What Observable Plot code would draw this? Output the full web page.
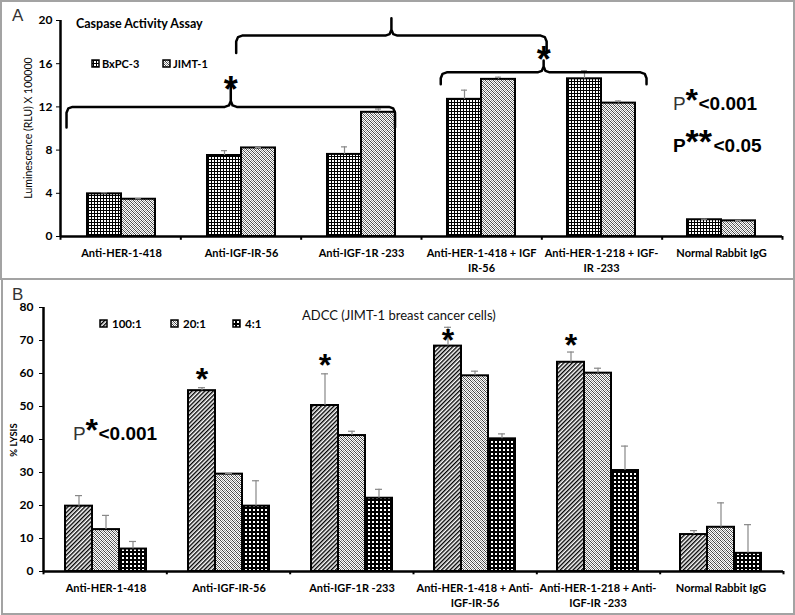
<!DOCTYPE html>
<html><head><meta charset="utf-8">
<script src="https://cdn.jsdelivr.net/npm/d3@7"></script>
<script src="https://cdn.jsdelivr.net/npm/@observablehq/plot@0.6"></script>
<style>
body{margin:0;background:#fff;}
#root{position:relative;width:795px;height:615px;overflow:hidden;}
.panel{position:absolute;border:2px solid #a3a3a3;box-sizing:border-box;}
</style></head>
<body>
<svg width="0" height="0" style="position:absolute">
<defs>
<pattern id="pGridA" width="3" height="3" patternUnits="userSpaceOnUse"><rect width="3" height="3" fill="#000"/><rect x="1" y="1" width="2" height="2" fill="#fff"/></pattern>
<pattern id="pGrid4" width="4" height="4" patternUnits="userSpaceOnUse"><rect width="4" height="4" fill="#000"/><rect x="1" y="1" width="2" height="2" fill="#fff"/></pattern>
<pattern id="pGray" width="4" height="4" patternUnits="userSpaceOnUse"><rect width="4" height="4" fill="#fff"/><path d="M0,0h1v1h-1zM1,1h1v1h-1zM2,2h1v1h-1zM3,3h1v1h-1z" fill="#444"/><path d="M2,0h1v1h-1zM0,2h1v1h-1zM3,1h1v1h-1zM1,3h1v1h-1z" fill="#999"/></pattern>
<pattern id="pDiag" width="3" height="3" patternUnits="userSpaceOnUse" patternTransform="rotate(45)"><rect width="3" height="3" fill="#fff"/><rect width="1.4" height="3" fill="#000"/></pattern>
</defs>
</svg>
<div id="root">
  <div class="panel" style="left:0;top:0;width:795px;height:280px"></div>
  <div class="panel" style="left:1px;top:278px;width:794px;height:337px"></div>
</div>
<script>
// ---------- Panel A data ----------
const topCategories = ["Anti-HER-1-418", "Anti-IGF-IR-56", "Anti-IGF-1R -233", "Anti-HER-1-418 + IGF\nIR-56", "Anti-HER-1-218 + IGF-\nIR -233", "Normal Rabbit IgG"];
const topSeries = ["BxPC-3", "JIMT-1"];
const bxpc3 = [3.95, 7.5, 7.6, 12.7, 14.6, 1.55];
const bxpc3Err = [0.1, 0.45, 0.7, 0.85, 0.75, 0.05];
const jimt1 = [3.45, 8.2, 11.5, 14.55, 12.35, 1.45];
const jimt1Err = [0.05, 0.05, 0.3, 0.2, 0.2, 0.03];
const topYTicks = [0, 4, 8, 12, 16, 20];
// significance brackets (in category units along x, RLU units along y)
const topBrackets = [
  {from: 0.05, to: 2.78, level: 12.0, end: 10.1, peak: 14.2, star: 14.4},
  {from: 3.16, to: 4.87, level: 15.2, end: 14.1, peak: 16.3, star: 17.1},
  {from: 1.46, to: 4.04, level: 18.6, end: 17.0, peak: 20.2, star: null}
];

// ---------- Panel B data ----------
const bottomCategories = ["Anti-HER-1-418", "Anti-IGF-IR-56", "Anti-IGF-1R -233", "Anti-HER-1-418 + Anti-\nIGF-IR-56", "Anti-HER-1-218 + Anti-\nIGF-IR -233", "Normal Rabbit IgG"];
const ratios = ["100:1", "20:1", "4:1"];
const lysis100 = [19.8, 54.8, 50.3, 68.3, 63.4, 11.2];
const lysis100Err = [3.2, 0.9, 9.6, 5.7, 3.1, 1.2];
const lysis20 = [12.7, 29.5, 41.2, 59.3, 60.1, 13.4];
const lysis20Err = [4.3, 0.2, 1.3, 1.4, 1.5, 7.4];
const lysis4 = [6.8, 19.8, 22.2, 40.2, 30.6, 5.5];
const lysis4Err = [2.3, 7.7, 2.7, 1.5, 7.4, 8.7];
const lysisStars = [null, 60.3, 64.5, 72.1, 70.6, null];
const bottomYTicks = [0, 10, 20, 30, 40, 50, 60, 70, 80];

const root = document.getElementById("root");
function place(el, left, top) {
  el.style.position = "absolute"; el.style.left = left + "px"; el.style.top = top + "px";
  el.style.background = "none"; el.style.maxWidth = "none";
  root.appendChild(el);
}
const FONT = "Lato, 'Liberation Sans', sans-serif";

// ---------- Panel A bars ----------
const topData = topCategories.flatMap((c, i) => [
  {cat: c, series: topSeries[0], value: bxpc3[i], err: bxpc3Err[i]},
  {cat: c, series: topSeries[1], value: jimt1[i], err: jimt1Err[i]}
]);
const TA = {width: 795, height: 279, marginLeft: 60, marginRight: 13, marginTop: 20, marginBottom: 43};
const topBars = Plot.plot({
  ...TA,
  fx: {domain: topCategories, padding: 0, axis: null},
  x: {domain: topSeries, paddingInner: 0, paddingOuter: 0.74, axis: null},
  y: {domain: [0, 20], axis: null},
  color: {domain: topSeries, range: ["url(#pGridA)", "url(#pGray)"]},
  style: {fontFamily: FONT, fontSize: "11px", fontWeight: "bold", color: "#000", background: "none"},
  marks: [
    Plot.barY(topData, {fx: "cat", x: "series", y: "value", fill: "series", stroke: "#000", strokeWidth: 2}),
    Plot.ruleX(topData, {fx: "cat", x: "series", y1: "value", y2: d => d.value + d.err, stroke: "#888", strokeWidth: 1.2}),
    Plot.tickY(topData, {fx: "cat", x: "series", y: d => d.value + d.err, stroke: "#888", strokeWidth: 1.2, insetLeft: 14, insetRight: 14}),
    Plot.text(topCategories, {fx: d => d, text: d => d, frameAnchor: "bottom", lineAnchor: "top", dy: 10, lineHeight: 1.35, fill: "#000"})
  ]
});
place(topBars, 0, 0);

// ---------- Panel A axes + brackets ----------
function bracketPoints(bs) {
  const rx = 0.05, ry = 0.55;
  return bs.flatMap((b, k) => {
    const xm = (b.from + b.to) / 2, y = b.level;
    return [[b.from, b.end], [b.from, y - ry], [b.from + rx * 0.3, y - ry * 0.25], [b.from + rx, y],
      [xm - rx, y], [xm - rx * 0.3, y + ry * 0.25], [xm, y + ry], [xm, b.peak], [xm, y + ry],
      [xm + rx * 0.3, y + ry * 0.25], [xm + rx, y], [b.to - rx, y], [b.to - rx * 0.3, y - ry * 0.25],
      [b.to, y - ry], [b.to, b.end]].map(([x, yy]) => ({b: k, x, y: yy}));
  });
}
const topOverlay = Plot.plot({
  ...TA,
  x: {domain: [0, topCategories.length], axis: null},
  y: {domain: [0, 20], ticks: topYTicks, tickSize: 4, tickPadding: 4, label: null, tickFormat: d => d},
  style: {fontFamily: FONT, fontSize: "12px", fontWeight: "bold", color: "#000", background: "none"},
  marks: [
    Plot.ruleX([0], {y1: 0, y2: 20, stroke: "#000", strokeWidth: 2.5}),
    Plot.ruleY([0], {x1: 0, x2: topCategories.length, stroke: "#000", strokeWidth: 2.5}),
    Plot.ruleX(d3.range(topCategories.length + 1), {y1: 0, y2: -0.35, stroke: "#000", strokeWidth: 2}),
    Plot.line(bracketPoints(topBrackets), {x: "x", y: "y", z: "b", stroke: "#000", strokeWidth: 2.5, strokeLinejoin: "round"}),
    Plot.text(topBrackets.filter(b => b.star != null), {x: b => (b.from + b.to) / 2, y: "star", text: () => "*", fontSize: 36, fontFamily: "Liberation Sans", dy: 9, fill: "#000"})
  ]
});
place(topOverlay, 0, 0);

// ---------- Panel B bars ----------
const bottomData = bottomCategories.flatMap((c, i) => [
  {cat: c, series: ratios[0], value: lysis100[i], err: lysis100Err[i]},
  {cat: c, series: ratios[1], value: lysis20[i], err: lysis20Err[i]},
  {cat: c, series: ratios[2], value: lysis4[i], err: lysis4Err[i]}
]);
const starData = bottomCategories.map((c, i) => ({cat: c, series: ratios[0], y: lysisStars[i]})).filter(d => d.y != null);
const TB = {width: 795, height: 335, marginLeft: 43, marginRight: 12, marginTop: 27, marginBottom: 44};
const bottomBars = Plot.plot({
  ...TB,
  fx: {domain: bottomCategories, padding: 0, axis: null},
  x: {domain: ratios, paddingInner: 0, paddingOuter: 0.76, axis: null},
  y: {domain: [0, 80], axis: null},
  color: {domain: ratios, range: ["url(#pDiag)", "url(#pGray)", "url(#pGrid4)"]},
  style: {fontFamily: FONT, fontSize: "11px", fontWeight: "bold", color: "#000", background: "none"},
  marks: [
    Plot.barY(bottomData, {fx: "cat", x: "series", y: "value", fill: "series", stroke: "#000", strokeWidth: 2}),
    Plot.ruleX(bottomData, {fx: "cat", x: "series", y1: "value", y2: d => d.value + d.err, stroke: "#888", strokeWidth: 1.2}),
    Plot.tickY(bottomData, {fx: "cat", x: "series", y: d => d.value + d.err, stroke: "#888", strokeWidth: 1.2, insetLeft: 10, insetRight: 10}),
    Plot.text(starData, {fx: "cat", x: "series", y: "y", text: () => "*", fontSize: 32, fontFamily: "Liberation Sans", dy: 7, fill: "#000"}),
    Plot.text(bottomCategories, {fx: d => d, text: d => d, frameAnchor: "bottom", lineAnchor: "top", dy: 10, lineHeight: 1.35, fill: "#000"})
  ]
});
place(bottomBars, 0, 280);

const bottomOverlay = Plot.plot({
  ...TB,
  x: {domain: [0, bottomCategories.length], axis: null},
  y: {domain: [0, 80], ticks: bottomYTicks, tickSize: 4, tickPadding: 6, label: null, tickFormat: d => d},
  style: {fontFamily: FONT, fontSize: "12px", fontWeight: "bold", color: "#000", background: "none"},
  marks: [
    Plot.ruleX([0], {y1: 0, y2: 80, stroke: "#000", strokeWidth: 2.5}),
    Plot.ruleY([0], {x1: 0, x2: bottomCategories.length, stroke: "#000", strokeWidth: 2.5}),
    Plot.ruleX(d3.range(bottomCategories.length + 1), {y1: 0, y2: -1, stroke: "#000", strokeWidth: 2})
  ]
});
place(bottomOverlay, 0, 280);

// ---------- Titles, legends, notes ----------
const ns = "http://www.w3.org/2000/svg";
const ann = d3.create("svg").attr("width", 795).attr("height", 615).attr("xmlns", ns);
function txt(x, y, s, opts = {}) {
  return ann.append("text").attr("x", x).attr("y", y).text(s)
    .attr("font-family", opts.family || FONT).attr("font-size", opts.size || 12)
    .attr("font-weight", opts.weight || "normal").attr("fill", opts.fill || "#000")
    .attr("text-anchor", opts.anchor || "start").attr("transform", opts.transform || null);
}
txt(12, 21, "A", {family: "Liberation Sans", size: 17, fill: "#333"});
txt(12, 300, "B", {family: "Liberation Sans", size: 17, fill: "#333"});
txt(76, 28, "Caspase Activity Assay", {size: 12.5, weight: "bold"});
txt(302, 320, "ADCC (JIMT-1  breast cancer cells)", {size: 13, fill: "#111"});
txt(0, 0, "Luminescence (RLU) X 100000", {size: 10.5, anchor: "middle", transform: "translate(32,128) rotate(-90)"});
txt(0, 0, "% LYSIS", {size: 9.5, weight: "bold", anchor: "middle", transform: "translate(17,440) rotate(-90)"});
// legends
const legTop = [{x: 92, label: topSeries[0], fill: "url(#pGridA)"}, {x: 163, label: topSeries[1], fill: "url(#pGray)"}];
legTop.forEach(l => {
  ann.append("rect").attr("x", l.x).attr("y", 60).attr("width", 7).attr("height", 7).attr("fill", l.fill).attr("stroke", "#000").attr("stroke-width", 1.5);
  txt(l.x + 10, 67.5, l.label, {size: 11, weight: "bold"});
});
const legBot = [{x: 100, label: ratios[0], fill: "url(#pDiag)"}, {x: 171, label: ratios[1], fill: "url(#pGray)"}, {x: 233, label: ratios[2], fill: "url(#pGrid4)"}];
legBot.forEach(l => {
  ann.append("rect").attr("x", l.x).attr("y", 320).attr("width", 7).attr("height", 7).attr("fill", l.fill).attr("stroke", "#000").attr("stroke-width", 1.5);
  txt(l.x + 12, 327.5, l.label, {size: 11.5, weight: "bold"});
});
// p-value notes
function pnote(x, y, pBold, stars, starSize, rest) {
  txt(x, y, "P", {family: "Liberation Sans", size: 19, weight: pBold ? "bold" : "normal", fill: pBold ? "#000" : "#333"});
  txt(x + 12.5, y + 0.5, stars, {family: "Liberation Sans", size: starSize, weight: "bold"});
  txt(x + 12.5 + (stars.length === 1 ? 13 : 28), y, rest, {family: "Liberation Sans", size: 19, weight: "bold"});
}
pnote(673, 110, false, "*", 32, "<0.001");
pnote(673, 152, true, "**", 34, "<0.05");
pnote(73, 440, false, "*", 32, "<0.001");
const annNode = ann.node();
annNode.style.pointerEvents = "none";
place(annNode, 0, 0);
</script>
</body></html>
